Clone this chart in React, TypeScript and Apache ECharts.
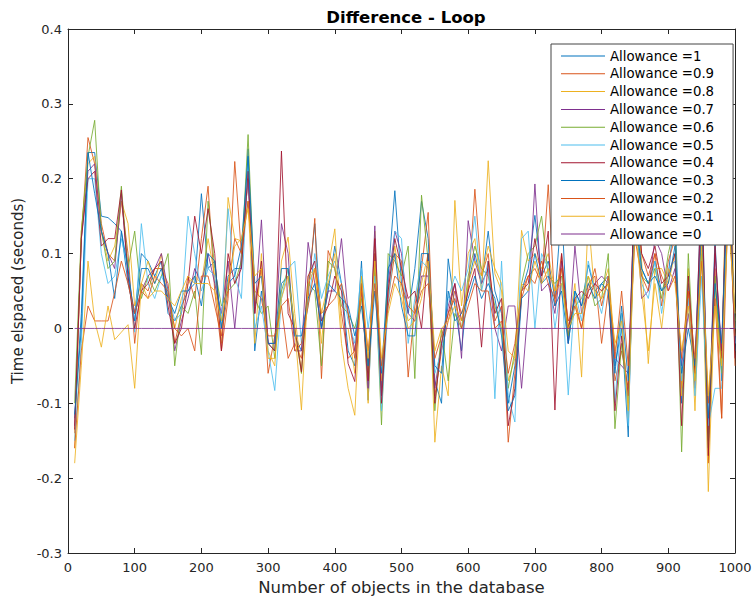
import React, { useEffect, useRef } from "react";
import * as echarts from "echarts";

const TITLE = "Difference - Loop";
const X_NAME = "Number of objects in the database";
const Y_NAME = "Time elspaced (seconds)";

const xs: number[] = [
  10, 20, 30, 40, 50, 60, 70, 80, 90, 100,
  110, 120, 130, 140, 150, 160, 170, 180, 190, 200,
  210, 220, 230, 240, 250, 260, 270, 280, 290, 300,
  310, 320, 330, 340, 350, 360, 370, 380, 390, 400,
  410, 420, 430, 440, 450, 460, 470, 480, 490, 500,
  510, 520, 530, 540, 550, 560, 570, 580, 590, 600,
  610, 620, 630, 640, 650, 660, 670, 680, 690, 700,
  710, 720, 730, 740, 750, 760, 770, 780, 790, 800,
  810, 820, 830, 840, 850, 860, 870, 880, 890, 900,
  910, 920, 930, 940, 950, 960, 970, 980, 990, 1000,
];

const allow10: number[] = [
  -0.12, 0.02, 0.235, 0.235, 0.15, 0.148, 0.14, 0.13, 0.06, 0.02,
  0.1, 0.09, 0.07, 0.09, 0.02, 0.01, 0.03, 0.05, 0.06, 0.18,
  0.08, 0.09, 0.0, 0.07, 0.08, 0.08, 0.24, -0.03, 0.05, -0.02,
  -0.03, 0.06, 0.07, -0.01, -0.03, 0.05, 0.14, 0.0, 0.05, 0.11,
  0.06, -0.03, -0.05, 0.09, -0.096, 0.1, -0.08, 0.07, 0.184, 0.06,
  0.02, 0.08, 0.17, 0.12, -0.07, -0.1, 0.093, 0.03, -0.03, 0.06,
  0.1, 0.06, 0.13, 0.05, 0.02, -0.1, -0.05, 0.05, 0.08, 0.151,
  0.07, 0.09, 0.04, 0.16, -0.02, 0.05, 0.03, 0.085, 0.05, 0.06,
  0.07, -0.05, 0.0, -0.145, 0.22, 0.08, 0.06, 0.09, 0.05, 0.07,
  0.16, -0.1, 0.06, -0.06, 0.2, -0.15, 0.12, -0.07, 0.25, -0.03,
];
const allow09: number[] = [
  -0.14, 0.12, 0.255, 0.22, 0.14, 0.1, 0.09, 0.17, 0.1, -0.02,
  0.06, 0.05, 0.08, 0.08, 0.06, -0.02, 0.02, 0.07, 0.04, 0.12,
  0.19, 0.05, -0.03, 0.04, 0.223, 0.1, 0.2, 0.03, 0.08, -0.06,
  -0.01, 0.03, -0.04, -0.02, -0.04, 0.04, 0.147, -0.067, 0.104, 0.08,
  0.02, -0.04, -0.03, 0.06, -0.05, 0.1, -0.09, 0.04, 0.1, 0.09,
  -0.065, 0.03, 0.08, 0.155, -0.09, -0.03, 0.01, 0.05, 0.02, 0.05,
  0.186, 0.07, 0.1, 0.01, 0.03, -0.152, -0.06, 0.04, 0.07, 0.08,
  0.06, 0.192, 0.03, 0.1, -0.01, 0.04, 0.0, 0.06, 0.07, -0.02,
  0.05, -0.07, -0.03, -0.08, 0.2, 0.1, 0.07, 0.1, 0.03, 0.09,
  0.12, -0.08, 0.05, -0.08, 0.15, -0.18, 0.08, -0.12, 0.3, -0.05,
];
const allow08: number[] = [
  -0.16, 0.13, 0.22, 0.23, 0.13, 0.09, 0.11, 0.17, 0.14, 0.03,
  0.06, 0.09, 0.06, 0.1, 0.04, 0.0, 0.04, 0.06, 0.07, 0.06,
  0.12, 0.07, -0.02, 0.175, 0.12, 0.117, 0.17, -0.02, 0.1, -0.03,
  -0.05, 0.09, 0.122, 0.02, -0.06, 0.07, 0.08, -0.02, 0.08, 0.133,
  0.0, 0.0, -0.06, 0.07, -0.1, 0.13, -0.07, 0.05, 0.11, 0.05,
  0.01, 0.02, 0.06, 0.1, -0.152, -0.05, -0.09, 0.171, 0.03, 0.1,
  0.12, 0.05, 0.224, 0.073, 0.05, -0.07, -0.04, 0.131, 0.09, 0.1,
  0.08, 0.1, 0.05, 0.08, 0.0, 0.06, -0.065, 0.15, 0.04, 0.05,
  0.08, -0.03, 0.02, -0.12, 0.18, 0.09, -0.047, 0.08, 0.08, 0.06,
  0.1, -0.09, 0.08, -0.11, 0.12, -0.218, 0.05, -0.05, 0.335, 0.0,
];
const allow07: number[] = [
  -0.13, 0.12, 0.21, 0.22, 0.13, 0.1, 0.08, 0.18, 0.07, 0.02,
  0.05, 0.07, 0.08, 0.1, 0.05, -0.03, 0.01, 0.04, 0.08, 0.06,
  0.1, 0.06, 0.02, 0.09, 0.0, 0.1, 0.2, 0.02, 0.145, -0.02,
  -0.02, 0.14, 0.1, -0.03, -0.03, 0.115, 0.06, 0.0, 0.05, 0.05,
  0.12, 0.02, -0.03, 0.05, -0.08, 0.137, -0.09, 0.06, 0.13, 0.1,
  0.02, 0.01, 0.07, 0.07, -0.08, -0.02, 0.03, 0.06, -0.04, 0.144,
  0.09, 0.06, 0.08, 0.0, -0.03, 0.03, 0.03, -0.08, 0.03, 0.193,
  0.05, 0.06, 0.02, 0.09, -0.02, 0.11, 0.02, 0.05, 0.06, 0.07,
  0.06, -0.04, -0.05, -0.06, 0.19, 0.04, 0.05, 0.12, 0.1, 0.05,
  0.08, -0.05, 0.02, -0.05, 0.17, -0.14, 0.1, -0.03, 0.24, -0.02,
];
const allow06: number[] = [
  -0.1, 0.13, 0.23, 0.278, 0.13, 0.08, 0.09, 0.19, 0.08, 0.13,
  0.04, 0.07, 0.05, 0.07, 0.1, -0.05, 0.03, 0.02, 0.05, -0.035,
  0.17, 0.08, 0.03, 0.05, 0.06, 0.09, 0.259, 0.04, 0.02, 0.03,
  -0.04, 0.05, 0.08, 0.0, -0.06, 0.06, 0.05, -0.05, 0.09, 0.08,
  0.03, 0.02, 0.0, 0.04, -0.06, 0.08, -0.129, 0.1, 0.09, 0.07,
  0.11, -0.067, 0.178, 0.09, -0.11, 0.0, -0.07, 0.02, 0.0, 0.07,
  0.11, 0.08, 0.07, 0.03, 0.0, -0.08, -0.03, 0.06, 0.1, 0.11,
  0.15, 0.07, 0.06, 0.07, -0.01, 0.03, 0.04, 0.07, 0.03, 0.04,
  0.1, -0.134, -0.02, -0.1, 0.15, 0.07, 0.06, 0.08, 0.04, 0.1,
  0.14, -0.165, 0.1, -0.07, 0.1, -0.16, 0.07, -0.06, 0.17, 0.01,
];
const allow05: number[] = [
  -0.15, -0.02, 0.2, 0.2, 0.1, 0.06, 0.07, 0.12, 0.08, -0.005,
  0.14, 0.06, 0.04, 0.07, 0.05, 0.01, 0.02, 0.15, 0.1, 0.05,
  0.08, 0.07, 0.01, 0.16, 0.07, 0.04, 0.22, 0.0, 0.03, -0.03,
  -0.083, 0.04, 0.08, 0.09, -0.02, 0.03, 0.1, 0.04, 0.07, 0.09,
  0.06, 0.01, -0.02, 0.08, 0.0, 0.07, -0.11, 0.03, 0.13, 0.12,
  -0.02, 0.04, 0.09, 0.08, -0.06, -0.03, 0.04, 0.07, 0.05, 0.08,
  0.15, 0.05, 0.09, -0.094, 0.09, -0.09, -0.125, 0.12, 0.13, 0.0,
  0.1, 0.08, 0.0, 0.06, -0.089, 0.05, 0.01, 0.09, 0.05, 0.02,
  0.07, -0.099, 0.02, -0.13, 0.17, 0.06, 0.04, 0.09, 0.02, 0.08,
  0.09, -0.07, 0.04, -0.09, 0.07, -0.13, -0.08, -0.08, 0.2, -0.02,
];
const allow04: number[] = [
  -0.135, 0.12, 0.2, 0.21, 0.11, 0.12, 0.12, 0.185, 0.07, 0.0,
  0.05, 0.06, 0.08, 0.09, 0.03, -0.02, 0.0, 0.06, 0.15, 0.1,
  0.16, 0.1, -0.03, 0.1, 0.06, 0.08, 0.21, 0.02, 0.09, -0.02,
  -0.03, 0.237, 0.02, 0.0, -0.058, 0.07, 0.09, 0.01, 0.03, 0.07,
  0.05, -0.047, -0.071, 0.06, -0.07, 0.12, -0.1, 0.05, 0.12, 0.08,
  0.04, 0.05, 0.0, 0.1, -0.1, -0.02, 0.02, 0.06, 0.01, 0.05,
  0.08, -0.025, 0.09, 0.02, 0.04, -0.13, -0.08, 0.05, 0.06, 0.12,
  0.07, 0.13, -0.109, 0.1, 0.0, 0.04, 0.05, 0.04, 0.06, 0.05,
  0.06, -0.11, -0.01, -0.09, 0.21, 0.1, 0.08, 0.11, 0.06, 0.07,
  0.1, -0.13, 0.07, -0.06, 0.2, -0.17, 0.11, -0.04, 0.28, -0.04,
];
const allow03: number[] = [
  -0.115, 0.0, 0.235, 0.18, 0.13, 0.1, 0.04, 0.13, 0.08, 0.01,
  0.08, 0.08, 0.06, 0.08, 0.04, 0.02, 0.05, 0.05, 0.07, 0.03,
  0.1, 0.09, 0.0, 0.06, 0.07, 0.11, 0.23, 0.06, 0.07, -0.02,
  -0.02, 0.08, 0.08, -0.01, -0.01, 0.04, 0.06, 0.0, 0.06, 0.05,
  0.04, 0.03, -0.01, 0.03, -0.05, 0.05, -0.06, 0.08, 0.1, 0.03,
  -0.01, -0.01, 0.1, 0.1, -0.05, -0.06, 0.05, 0.01, 0.02, 0.04,
  0.07, 0.04, 0.06, 0.04, -0.01, -0.11, -0.09, 0.04, 0.05, 0.1,
  0.06, 0.07, 0.03, 0.05, -0.02, 0.05, 0.03, 0.06, 0.04, 0.06,
  0.05, -0.06, 0.03, -0.07, 0.16, 0.08, 0.06, 0.07, 0.05, 0.06,
  0.11, -0.06, 0.0, -0.05, 0.13, -0.12, 0.06, -0.02, 0.22, 0.0,
];
const allow02: number[] = [
  -0.16, -0.03, 0.03, 0.01, 0.01, 0.01, 0.048, 0.09, 0.06, 0.02,
  0.05, 0.04, 0.07, 0.06, 0.05, 0.0, -0.01, 0.0, -0.03, 0.07,
  0.07, 0.03, -0.01, 0.05, 0.12, 0.1, 0.17, 0.05, 0.04, -0.01,
  -0.01, 0.03, 0.04, -0.03, -0.02, 0.03, 0.08, 0.02, 0.03, 0.04,
  0.06, 0.02, -0.04, 0.05, -0.03, 0.06, -0.05, 0.03, 0.07, 0.06,
  0.03, 0.02, 0.05, 0.06, -0.04, -0.01, 0.02, 0.04, 0.0, 0.03,
  0.06, 0.05, 0.05, 0.0, 0.01, -0.06, -0.02, 0.05, 0.07, 0.06,
  0.09, 0.06, 0.04, 0.08, 0.01, 0.03, 0.0, 0.05, 0.08, 0.03,
  0.07, -0.04, 0.05, -0.05, 0.12, 0.07, 0.05, 0.1, 0.07, 0.05,
  0.07, -0.04, 0.05, -0.04, 0.09, -0.1, 0.04, -0.12, 0.18, -0.01,
];
const allow01: number[] = [
  -0.18, -0.05, 0.09, 0.01, -0.025, 0.03, -0.015, -0.005, 0.005, -0.08,
  0.06, 0.04, 0.05, 0.05, 0.04, 0.03, 0.05, 0.07, 0.06, 0.06,
  0.06, 0.05, 0.01, 0.06, 0.11, 0.12, 0.16, 0.07, 0.08, -0.04,
  -0.04, 0.04, 0.07, 0.0, -0.109, 0.06, 0.08, 0.02, 0.06, 0.1,
  -0.02, -0.08, -0.116, 0.07, -0.04, 0.09, -0.04, 0.02, 0.06, 0.04,
  0.0, 0.01, 0.04, 0.09, -0.03, 0.0, 0.01, 0.03, 0.01, 0.06,
  0.09, 0.07, 0.11, 0.08, 0.06, -0.03, -0.04, 0.06, 0.05, 0.09,
  0.06, 0.08, 0.05, 0.06, 0.0, 0.02, 0.02, 0.07, 0.05, 0.04,
  0.06, -0.02, 0.01, -0.11, 0.14, 0.05, -0.03, 0.06, 0.0, 0.08,
  0.06, -0.03, 0.03, -0.07, 0.11, -0.09, 0.03, -0.05, 0.15, 0.02,
];
const allow00: number[] = [
  0, 0, 0, 0, 0, 0, 0, 0, 0, 0,
  0, 0, 0, 0, 0, 0, 0, 0, 0, 0,
  0, 0, 0, 0, 0, 0, 0, 0, 0, 0,
  0, 0, 0, 0, 0, 0, 0, 0, 0, 0,
  0, 0, 0, 0, 0, 0, 0, 0, 0, 0,
  0, 0, 0, 0, 0, 0, 0, 0, 0, 0,
  0, 0, 0, 0, 0, 0, 0, 0, 0, 0,
  0, 0, 0, 0, 0, 0, 0, 0, 0, 0,
  0, 0, 0, 0, 0, 0, 0, 0, 0, 0,
  0, 0, 0, 0, 0, 0, 0, 0, 0, 0,
];

const seriesNames: string[] = [
  "Allowance =1", "Allowance =0.9", "Allowance =0.8", "Allowance =0.7",
  "Allowance =0.6", "Allowance =0.5", "Allowance =0.4", "Allowance =0.3",
  "Allowance =0.2", "Allowance =0.1", "Allowance =0",
];
const seriesValues: number[][] = [
  allow10, allow09, allow08, allow07, allow06, allow05,
  allow04, allow03, allow02, allow01, allow00,
];
const colors: string[] = [
  "#0072BD", "#D95319", "#EDB120", "#7E2F8E", "#77AC30", "#4DBEEE",
  "#A2142F", "#0072BD", "#D95319", "#EDB120", "#7E2F8E",
];

const FONT = "DejaVu Sans";
const AX = "#262626";

export default function App() {
  const ref = useRef<HTMLDivElement>(null);
  useEffect(() => {
    if (!ref.current) return;
    const chart = echarts.init(ref.current, null, { renderer: "svg" });
    const baseAxis = {
      axisLine: { show: true, onZero: false, lineStyle: { color: AX, width: 1 } },
      axisTick: { show: true, inside: true, length: 5, lineStyle: { color: AX } },
      splitLine: { show: false },
    };
    chart.setOption({
      animation: false,
      backgroundColor: "#ffffff",
      textStyle: { fontFamily: FONT },
      title: {
        text: TITLE,
        left: 401,
        textAlign: "center",
        top: 4,
        textStyle: { fontFamily: FONT, fontSize: 16.5, fontWeight: "bold", color: "#000" },
      },
      grid: { left: 68, right: 21, top: 29, bottom: 48, containLabel: false },
      legend: {
        orient: "vertical",
        left: 551,
        top: 44,
        padding: [5, 19, 4, 10],
        itemWidth: 44,
        itemHeight: 14,
        itemGap: 3.8,
        backgroundColor: "#ffffff",
        borderColor: "#444",
        borderWidth: 1,
        textStyle: { fontFamily: FONT, fontSize: 13.3, color: "#000", lineHeight: 14 },
        data: seriesNames.map((n) => ({ name: n, icon: "path://M0,6 L44,6 L44,7 L0,7 Z" })),
        z: 10,
      },
      xAxis: [
        {
          ...baseAxis,
          type: "value",
          min: 0,
          max: 1000,
          interval: 100,
          name: X_NAME,
          nameLocation: "middle",
          nameGap: 26,
          nameTextStyle: { fontFamily: FONT, fontSize: 16.5, color: AX },
          axisLabel: {
            fontFamily: FONT,
            fontSize: 13,
            color: AX,
            margin: 8,
            formatter: (v: number) => String(v),
          },
        },
        {
          ...baseAxis,
          type: "value",
          position: "top",
          min: 0,
          max: 1000,
          interval: 100,
          axisLabel: { show: false },
        },
      ],
      yAxis: [
        {
          ...baseAxis,
          type: "value",
          min: -0.3,
          max: 0.4,
          interval: 0.1,
          name: Y_NAME,
          nameLocation: "middle",
          nameGap: 41,
          nameTextStyle: { fontFamily: FONT, fontSize: 15, color: AX },
          axisLabel: {
            fontFamily: FONT,
            fontSize: 13,
            color: AX,
            margin: 6,
            formatter: (v: number) => String(Math.round(v * 10) / 10),
          },
        },
        {
          ...baseAxis,
          type: "value",
          position: "right",
          min: -0.3,
          max: 0.4,
          interval: 0.1,
          axisLabel: { show: false },
        },
      ],
      series: seriesNames.map((name, k) => ({
        name,
        type: "line",
        xAxisIndex: 0,
        yAxisIndex: 0,
        data: xs.map((x, i) => [x, seriesValues[k][i]]),
        showSymbol: false,
        symbol: "none",
        color: colors[k],
        lineStyle: { width: 1, color: colors[k], opacity: 0.85 },
        emphasis: { disabled: true },
        z: 2,
      })),
    });
    return () => chart.dispose();
  }, []);
  return <div ref={ref} style={{ width: 756, height: 601, position: "absolute", left: 0, top: 0 }} />;
}
